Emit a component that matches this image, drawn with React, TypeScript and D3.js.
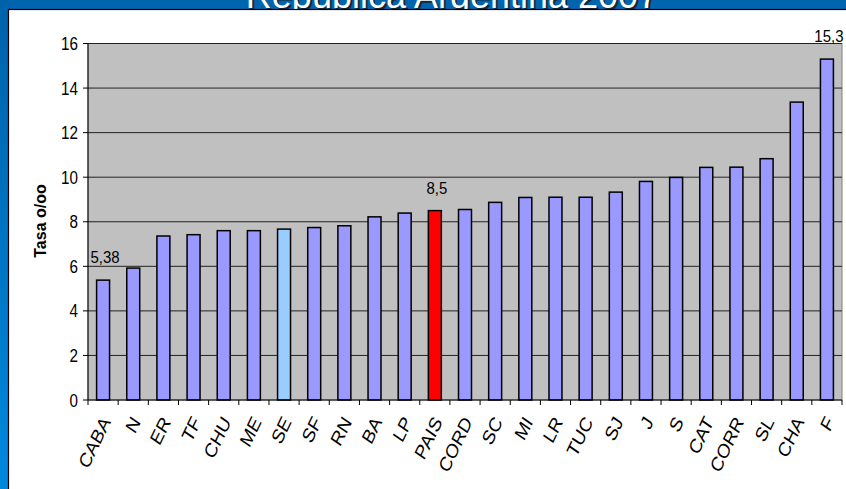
import React from "react";
import * as d3 from "d3";

const categories = ["CABA","N","ER","TF","CHU","ME","SE","SF","RN","BA","LP","PAIS","CORD","SC","MI","LR","TUC","SJ","J","S","CAT","CORR","SL","CHA","F"];
const values = [5.38,5.92,7.36,7.42,7.6,7.6,7.67,7.74,7.82,8.22,8.39,8.5,8.55,8.87,9.09,9.1,9.1,9.33,9.81,9.99,10.44,10.45,10.83,13.37,15.3];
const labelled: Record<string,string> = { CABA: "5,38", PAIS: "8,5", F: "15,3" };
const yTicks = [0,2,4,6,8,10,12,14,16];
const title = "República Argentina 2007";
const yTitle = "Tasa o/oo";

const W = 846, H = 489;
const plot = { left: 88, right: 842, top: 43.5, bottom: 400 };

function barColor(c: string) {
  if (c === "PAIS") return "#ff0000";
  if (c === "SE") return "#99ccff";
  return "#9999ff";
}

export default function App() {
  const x = d3.scaleBand<string>().domain(categories).range([plot.left, plot.right]).padding(0);
  const y = d3.scaleLinear().domain([0, 16]).range([plot.bottom, plot.top]);
  const bw = x.bandwidth() * 0.43;
  const font = "'Liberation Sans', Arial, sans-serif";
  return (
    <svg width={W} height={H} style={{ position: "absolute", left: 0, top: 0, display: "block" }} fontFamily={font}>
      <defs>
        <linearGradient id="leftGrad" x1="0" y1="0" x2="0" y2="1">
          <stop offset="0" stopColor="#0062aa" />
          <stop offset="1" stopColor="#0088dd" />
        </linearGradient>
      </defs>
      <rect x={0} y={0} width={W} height={H} fill="#0064ae" />
      <rect x={0} y={0} width={9} height={H} fill="url(#leftGrad)" />
      <text x={454} y={10} textAnchor="middle" fontSize={36} fill="#1a1a1a" opacity={0.8}>{title}</text>
      <text x={452} y={8} textAnchor="middle" fontSize={36} fill="#ffffff">{title}</text>
      <rect x={8.5} y={9.5} width={W} height={H} fill="#ffffff" stroke="#000" strokeWidth={1.2} />
      {/* plot area */}
      <rect x={plot.left} y={plot.top} width={plot.right - plot.left} height={plot.bottom - plot.top} fill="#c0c0c0" stroke="#808080" strokeWidth={1} />
      {yTicks.filter(t => t > 0).map(t => (
        <line key={"g" + t} x1={plot.left} x2={plot.right} y1={y(t)} y2={y(t)} stroke="#222" strokeWidth={1} />
      ))}
      {categories.map((c, i) => {
        const cx = (x(c) as number) + x.bandwidth() / 2;
        return (
          <rect key={c} x={cx - bw / 2} y={y(values[i])} width={bw} height={plot.bottom - y(values[i])}
            fill={barColor(c)} stroke="#000" strokeWidth={1.5} />
        );
      })}
      {/* axes */}
      <line x1={plot.left} x2={plot.left} y1={plot.top} y2={plot.bottom} stroke="#000" strokeWidth={1} />
      <line x1={plot.left} x2={plot.right} y1={plot.bottom} y2={plot.bottom} stroke="#000" strokeWidth={1} />
      {yTicks.map(t => (
        <g key={"t" + t}>
          <line x1={plot.left - 5} x2={plot.left} y1={y(t)} y2={y(t)} stroke="#000" />
          <text x={78} y={y(t) + 6} textAnchor="end" fontSize={16} fill="#000" transform={`translate(78 ${y(t)}) scale(0.95 1.1) translate(-78 ${-y(t)})`}>{t}</text>
        </g>
      ))}
      {categories.map((c, i) => (
        <line key={"xt" + c} x1={plot.left + i * x.step()} x2={plot.left + i * x.step()} y1={plot.bottom} y2={plot.bottom + 5} stroke="#000" />
      )).concat([<line key="xtend" x1={plot.right} x2={plot.right} y1={plot.bottom} y2={plot.bottom + 5} stroke="#000" />])}
      {categories.map(c => {
        const cx = (x(c) as number) + x.bandwidth() / 2;
        const ax = cx + 8, ay = 422;
        return (
          <text key={"xl" + c} x={0} y={0} textAnchor="end" fontSize={17} fill="#000"
            transform={`translate(${ax} ${ay}) scale(1 1.2) rotate(-60)`}>{c}</text>
        );
      })}
      {categories.map((c, i) => labelled[c] ? (
        <text key={"dl" + c} x={(x(c) as number) + x.bandwidth() / 2 + 2} y={y(values[i]) - 17} textAnchor="middle" fontSize={15} fill="#000"
          transform={`translate(0 ${y(values[i]) - 17}) scale(1 1.1) translate(0 ${-(y(values[i]) - 17)})`}>{labelled[c]}</text>
      ) : null)}
      <text x={46} y={221} textAnchor="middle" fontSize={16} fontWeight="bold" fill="#000" transform="rotate(-90 46 221)">{yTitle}</text>
    </svg>
  );
}
